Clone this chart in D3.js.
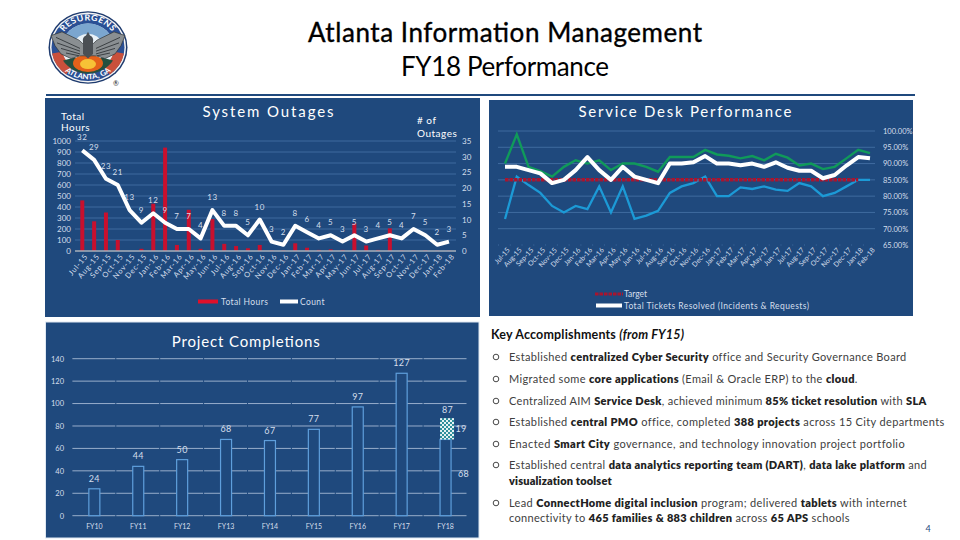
<!DOCTYPE html>
<html><head><meta charset="utf-8">
<script src="https://cdn.jsdelivr.net/npm/d3@7/dist/d3.min.js"></script>
<style>
html,body{margin:0;padding:0;background:#fff;overflow:hidden}
svg{display:block}
text{font-family:Lato,"Open Sans",sans-serif}
.axis path,.axis line{stroke:none}
</style></head><body><svg id="c" width="960" height="540"></svg>
<script>
const months=["Jul-15","Aug-15","Sep-15","Oct-15","Nov-15","Dec-15","Jan-16","Feb-16","Mar-16","Apr-16","May-16","Jun-16","Jul-16","Aug-16","Sep-16","Oct-16","Nov-16","Dec-16","Jan-17","Feb-17","Mar-17","Apr-17","May-17","Jun-17","Jul-17","Aug-17","Sep-17","Oct-17","Nov-17","Dec-17","Jan-18","Feb-18"];
const totalHours=[460,270,350,100,0,20,430,940,55,375,20,290,65,45,25,55,5,5,70,30,10,15,10,250,50,10,206,5,5,5,3,3];
const outageCount=[32,29,23,21,13,9,12,9,7,7,4,13,8,8,5,10,3,2,8,6,4,5,3,5,3,4,5,4,7,5,2,3];
const slaGreen=[90,99,89,87.7,86,89,91,90,91,88,90,90,89,87.5,92,92,92,94.2,92.8,92.4,91.6,92.3,91,93,91.8,89.4,90,88.3,89,91.6,94.2,93.2];
const totalResolved=[89,89,88,87,84,85,88,92,88,85,89,86,85,84,90,90,90.4,92.3,90,90,89.5,90,89,90.4,88.7,87.8,87.8,85.5,86.5,89.4,92,91.6];
const slaBlue=[73,86,83.4,81,77,75,77,76,83,75,83,73,74,75.5,81,83,84,86,80,80,82.7,82.2,83,82,81.6,84,83,80,81,83,85,85];
const target=[85,85,85,85,85,85,85,85,85,85,85,85,85,85,85,85,85,85,85,85,85,85,85,85,85,85,85,85,85,85,85];
const fiscalYears=["FY10","FY11","FY12","FY13","FY14","FY15","FY16","FY17","FY18"];
const projects=[24,44,50,68,67,77,97,127,68];
const projectsExtra=[{fy:"FY18",base:68,value:19,total:87}];
const accomplishments=[
 {y:357,w:397,runs:[["Established ",0],["centralized Cyber Security",1],[" office and Security Governance Board",0]]},
 {y:379,w:349,runs:[["Migrated some ",0],["core applications",1],[" (Email & Oracle ERP) to the ",0],["cloud",1],[".",0]]},
 {y:401,w:418,runs:[["Centralized AIM ",0],["Service Desk",1],[", achieved minimum ",0],["85% ticket resolution",1],[" with ",0],["SLA",1]]},
 {y:422,w:435,runs:[["Established ",0],["central PMO",1],[" office, completed ",0],["388 projects",1],[" across 15 City departments",0]]},
 {y:444,w:396,runs:[["Enacted ",0],["Smart City",1],[" governance, and technology innovation project portfolio",0]]},
 {y:465,w:418,runs:[["Established central ",0],["data analytics reporting team (DART)",1],[", ",0],["data lake platform",1],[" and",0]]},
 {y:481,w:103,runs:[["visualization toolset",1]],noBullet:true},
 {y:503,w:398,runs:[["Lead ",0],["ConnectHome digital inclusion",1],[" program; delivered ",0],["tablets",1],[" with internet",0]]},
 {y:518,w:341,runs:[["connectivity to ",0],["465 families & 883 children",1],[" across ",0],["65 APS",1],[" schools",0]],noBullet:true}
];
const navy="#1f497d", grid="#3f6b9f", lab="#d5dfec";
const svg=d3.select("#c");
const defs=svg.append("defs");
const chk=defs.append("pattern").attr("id","chk").attr("width",4).attr("height",4).attr("patternUnits","userSpaceOnUse");
chk.append("rect").attr("width",4).attr("height",4).attr("fill","#e6f2f2");
chk.append("rect").attr("width",2).attr("height",2).attr("fill","#2f8f9c");
chk.append("rect").attr("x",2).attr("y",2).attr("width",2).attr("height",2).attr("fill","#2f8f9c");

// header
svg.append("text").attr("x",505).attr("y",42).attr("text-anchor","middle").attr("font-size",26).attr("fill","#000").attr("stroke","#000").attr("stroke-width",.35).attr("textLength",394).text("Atlanta Information Management");
svg.append("text").attr("x",505).attr("y",76).attr("text-anchor","middle").attr("font-size",26).attr("fill","#000").attr("textLength",208).text("FY18 Performance");
svg.append("rect").attr("x",46).attr("y",94).attr("width",869).attr("height",2).attr("fill",navy);

// logo
(function(){
 const g=svg.append("g").attr("transform","translate(88,47.5) scale(1,0.92)");
 g.append("circle").attr("r",39.5).attr("fill","#1d3a6e");
 g.append("circle").attr("r",38).attr("fill","#f4f4f4");
 g.append("circle").attr("r",36.5).attr("fill","#2a4f94");
 g.append("path").attr("d",d3.arc()({innerRadius:25,outerRadius:36.5,startAngle:1.75,endAngle:2.5})).attr("fill","#c9503c");
 g.append("path").attr("d",d3.arc()({innerRadius:25,outerRadius:36.5,startAngle:-2.5,endAngle:-1.75})).attr("fill","#c9503c");
 g.append("circle").attr("r",26).attr("fill","#e9f1f7");
 g.append("path").attr("d",d3.arc()({innerRadius:15,outerRadius:26,startAngle:-1.3,endAngle:1.3})).attr("fill","#7ba6cf");
 g.append("path").attr("d","M-25 14 L-13 11 L-6 15 L0 11 L7 14 L14 11 L25 14 A29 29 0 0 1 -25 14Z").attr("fill","#24503f");
 g.append("ellipse").attr("cy",17).attr("rx",15).attr("ry",9.5).attr("fill","#e4611a");
 g.append("ellipse").attr("cy",18).attr("rx",8).attr("ry",5.5).attr("fill","#f7c236");
 g.append("path").attr("d","M-37 -13 L-26 -17 L-9 -8 L-5 -4 L5 -4 L9 -8 L26 -17 L37 -13 L33 -2 L27 7 L17 12 L8 9 L-8 9 L-17 12 L-27 7 L-33 -2Z").attr("fill","#8a8f92").attr("stroke","#2b2f33").attr("stroke-width",.7);
 g.append("path").attr("d","M-32 -11 L-8 1 M-31 -5 L-8 4 M-27 1 L-8 7 M-22 6 L-9 9 M32 -11 L8 1 M31 -5 L8 4 M27 1 L8 7 M22 6 L9 9").attr("stroke","#2e3337").attr("stroke-width",.9).attr("fill","none");
 g.append("path").attr("d","M-5 -6 Q-6 -11 -2 -13 L0 -17 L2 -13 Q6 -11 5 -6 L5 7 L0 12 L-5 7Z").attr("fill","#4a4f54");
 defs.append("path").attr("id","arcT").attr("d","M-29.5 0 A29.5 29.5 0 0 1 29.5 0");
 defs.append("path").attr("id","arcB").attr("d","M-34.5 0 A34.5 34.5 0 0 0 34.5 0");
 g.append("text").attr("font-size",9).attr("font-weight",700).attr("fill","#fff").attr("letter-spacing",.5).append("textPath").attr("href","#arcT").attr("startOffset","50%").attr("text-anchor","middle").text("RESURGENS");
 g.append("text").attr("font-size",8).attr("font-weight",700).attr("fill","#fff").append("textPath").attr("href","#arcB").attr("startOffset","50%").attr("text-anchor","middle").text("ATLANTA, GA");
 svg.append("text").attr("x",116).attr("y",86).attr("text-anchor","middle").attr("font-size",7).attr("fill","#222").text("®");
})();

// ---- System Outages
svg.append("rect").attr("x",45).attr("y",98).attr("width",435).attr("height",219).attr("fill",navy);
const x1=d3.scalePoint().domain(months).range([82.3,449]);
const yH=d3.scaleLinear().domain([0,1000]).range([251,141]);
const yC=d3.scaleLinear().domain([0,35]).range([251,141]);
svg.append("g").selectAll("line").data(yH.ticks(10).slice(1)).join("line").attr("x1",75).attr("x2",456).attr("y1",yH).attr("y2",yH).attr("stroke",grid);
svg.append("g").selectAll("rect").data(totalHours).join("rect").attr("x",(d,i)=>x1(months[i])-2).attr("width",4).attr("y",d=>yH(d)).attr("height",d=>yH(0)-yH(d)).attr("fill","#c8102e");
svg.append("line").attr("x1",75).attr("x2",456).attr("y1",251).attr("y2",251).attr("stroke","#a9b0bb").attr("stroke-width",1.5);
const ax1=svg.append("g").attr("class","axis").attr("transform","translate(0,251)").call(d3.axisBottom(x1).tickSize(0).tickPadding(4));
ax1.selectAll("text").attr("font-size",7.5).attr("fill",lab).attr("letter-spacing",.8).attr("text-anchor","end").attr("transform","rotate(-50)").attr("dx","-.1em").attr("dy",".5em");
const ayl=svg.append("g").attr("class","axis").attr("transform","translate(71,0)").call(d3.axisLeft(yH).tickValues(d3.range(0,1001,100)).tickSize(0).tickPadding(0).tickFormat(d3.format("d")));
ayl.selectAll("text").attr("font-size",8).attr("fill",lab);
const ayr=svg.append("g").attr("class","axis").attr("transform","translate(462,0)").call(d3.axisRight(yC).tickValues(d3.range(0,36,5)).tickSize(0).tickPadding(0));
ayr.selectAll("text").attr("font-size",8).attr("fill",lab);
const lineC=d3.line().x((d,i)=>x1(months[i])).y(d=>yC(d));
svg.append("path").attr("d",lineC(outageCount)).attr("fill","none").attr("stroke","#fff").attr("stroke-width",4).attr("stroke-linejoin","round");
svg.append("g").selectAll("text").data(outageCount).join("text").attr("x",(d,i)=>x1(months[i])).attr("y",d=>yC(d)-10).attr("text-anchor","middle").attr("font-size",8).attr("letter-spacing",.6).attr("fill",lab).text(d=>d);
svg.append("text").attr("x",268).attr("y",117).attr("text-anchor","middle").attr("font-size",15).attr("fill","#fff").attr("textLength",131).text("System Outages");
svg.append("text").attr("x",61).attr("y",120).attr("font-size",10).attr("fill","#fff").attr("letter-spacing",.5).text("Total");
svg.append("text").attr("x",61).attr("y",131).attr("font-size",10).attr("fill","#fff").attr("letter-spacing",.5).text("Hours");
svg.append("text").attr("x",417).attr("y",124).attr("font-size",10).attr("fill","#fff").attr("letter-spacing",.5).text("# of");
svg.append("text").attr("x",417).attr("y",137).attr("font-size",10).attr("fill","#fff").attr("letter-spacing",.5).text("Outages");
svg.append("line").attr("x1",198).attr("x2",218).attr("y1",301.5).attr("y2",301.5).attr("stroke","#e0102a").attr("stroke-width",4);
svg.append("text").attr("x",221).attr("y",305).attr("font-size",8.5).attr("letter-spacing",.4).attr("fill",lab).text("Total Hours");
svg.append("line").attr("x1",280).attr("x2",298).attr("y1",301.5).attr("y2",301.5).attr("stroke","#fff").attr("stroke-width",4);
svg.append("text").attr("x",300).attr("y",305).attr("font-size",8.5).attr("letter-spacing",.4).attr("fill",lab).text("Count");

// ---- Service Desk
svg.append("rect").attr("x",489).attr("y",100).attr("width",424).attr("height",216).attr("fill",navy);
const x2=d3.scalePoint().domain(months).range([505,870]);
const yP=d3.scaleLinear().domain([65,100]).range([245,131]);
const pctTicks=d3.range(65,101,5);
svg.append("g").selectAll("line").data(pctTicks.slice(1)).join("line").attr("x1",498).attr("x2",875).attr("y1",yP).attr("y2",yP).attr("stroke",grid);
svg.append("line").attr("x1",498).attr("x2",875).attr("y1",245).attr("y2",245).attr("stroke",grid).attr("stroke-dasharray","1 10.77");
const ax2=svg.append("g").attr("class","axis").attr("transform","translate(0,246)").call(d3.axisBottom(x2).tickSize(0).tickPadding(3));
ax2.selectAll("text").attr("font-size",7).attr("fill",lab).attr("text-anchor","end").attr("transform","rotate(-48)").attr("dy",".5em");
const ayp=svg.append("g").attr("class","axis").attr("transform","translate(883,0)").call(d3.axisRight(yP).tickValues(pctTicks).tickSize(0).tickPadding(0).tickFormat(d=>d.toFixed(2)+"%"));
ayp.selectAll("text").attr("font-size",7.5).attr("fill",lab);
const lineP=d3.line().x((d,i)=>x2(months[i])).y(d=>yP(d));
svg.append("path").attr("d",lineP(slaBlue)).attr("fill","none").attr("stroke","#1c9ad6").attr("stroke-width",2.3);
svg.append("path").attr("d",lineP(target)).attr("fill","none").attr("stroke","#a8152f").attr("stroke-width",3.5).attr("stroke-dasharray","3.5 1");
svg.append("path").attr("d",lineP(slaGreen)).attr("fill","none").attr("stroke","#109a5a").attr("stroke-width",2.4);
svg.append("path").attr("d",lineP(totalResolved)).attr("fill","none").attr("stroke","#fff").attr("stroke-width",4).attr("stroke-linejoin","round");
svg.append("text").attr("x",685).attr("y",117).attr("text-anchor","middle").attr("font-size",15).attr("fill","#fff").attr("textLength",213).text("Service Desk Performance");
svg.append("line").attr("x1",595).attr("x2",623).attr("y1",294).attr("y2",294).attr("stroke","#a8152f").attr("stroke-width",3).attr("stroke-dasharray","3.5 1");
svg.append("text").attr("x",624).attr("y",297).attr("font-size",8.5).attr("fill",lab).text("Target");
svg.append("line").attr("x1",596).attr("x2",622).attr("y1",305.5).attr("y2",305.5).attr("stroke","#fff").attr("stroke-width",4);
svg.append("text").attr("x",624).attr("y",309).attr("font-size",8.5).attr("fill",lab).attr("textLength",185).text("Total Tickets Resolved  (Incidents & Requests)");

// ---- Project Completions
svg.append("rect").attr("x",45.5).attr("y",322).attr("width",433.5).attr("height",216).attr("fill",navy).attr("stroke","#dfe8f2");
const x3=d3.scaleBand().domain(fiscalYears).range([72.4,467.5]);
const yN=d3.scaleLinear().domain([0,140]).range([515.7,358.7]);
svg.append("g").selectAll("line").data(d3.range(0,141,20)).join("line").attr("x1",72.4).attr("x2",467).attr("y1",yN).attr("y2",yN).attr("stroke","#98aecb").attr("stroke-dasharray","42.9 1");
const bw=11;
svg.append("g").selectAll("rect").data(projects).join("rect").attr("x",(d,i)=>x3(fiscalYears[i])+x3.bandwidth()/2-bw/2).attr("width",bw).attr("y",d=>yN(d)).attr("height",d=>yN(0)-yN(d)).attr("fill",navy).attr("stroke","#5f9fdc").attr("stroke-width",1.2);
svg.append("g").selectAll("rect").data(projectsExtra).join("rect").attr("x",d=>x3(d.fy)+x3.bandwidth()/2-5.5).attr("width",14).attr("y",d=>yN(d.base+d.value)).attr("height",d=>yN(d.base)-yN(d.base+d.value)).attr("fill","url(#chk)");
const lbl=(x,y,t)=>svg.append("text").attr("x",x).attr("y",y).attr("text-anchor","middle").attr("font-size",9).attr("letter-spacing",.4).attr("fill",lab).text(t);
svg.append("g").selectAll("text").data(projects.slice(0,8)).join("text").attr("x",(d,i)=>x3(fiscalYears[i])+x3.bandwidth()/2).attr("y",d=>yN(d)-7).attr("text-anchor","middle").attr("font-size",9).attr("letter-spacing",.4).attr("fill",lab).text(d=>d);
projectsExtra.forEach(d=>{
 const c=x3(d.fy)+x3.bandwidth()/2;
 lbl(c+2,yN(d.total)-5,d.total);
 lbl(c+15.5,yN(d.base+d.value/2)+3,d.value);
 lbl(c+18,477,d.base);
});
const ay3=svg.append("g").attr("class","axis").attr("transform","translate(64,0)").call(d3.axisLeft(yN).tickValues(d3.range(0,141,20)).tickSize(0).tickPadding(0));
ay3.selectAll("text").attr("font-size",7.5).attr("fill",lab);
const ax3=svg.append("g").attr("class","axis").attr("transform","translate(0,515.7)").call(d3.axisBottom(x3).tickSize(0).tickPadding(8));
ax3.selectAll("text").attr("font-size",7).attr("fill",lab);
svg.append("text").attr("x",245.7).attr("y",347).attr("text-anchor","middle").attr("font-size",15).attr("fill","#fff").attr("textLength",148).text("Project Completions");

// ---- Key accomplishments
const ka=svg.append("text").attr("x",491).attr("y",339).attr("font-size",12.5).attr("font-weight",700).attr("fill","#111");
ka.append("tspan").text("Key Accomplishments ");
ka.append("tspan").attr("font-style","italic").text("(from FY15)");
ka.attr("textLength",193);
accomplishments.forEach(a=>{
 if(!a.noBullet) svg.append("circle").attr("cx",496).attr("cy",a.y).attr("r",2.8).attr("fill","none").attr("stroke","#333").attr("stroke-width",.9);
 const t=svg.append("text").attr("x",509).attr("y",a.y+3.5).attr("font-size",11).attr("fill","#404040");
 a.runs.forEach(r=>t.append("tspan").attr("font-weight",r[1]?800:400).attr("fill",r[1]?"#222":"#404040").text(r[0]));
 const w=t.node().getComputedTextLength();
 const n=a.runs.map(r=>r[0]).join("").length;
 t.attr("letter-spacing",(a.w-w)/n);
});
svg.append("text").attr("x",928).attr("y",532).attr("text-anchor","middle").attr("font-size",9).attr("fill",navy).text("4");
</script></body></html>
